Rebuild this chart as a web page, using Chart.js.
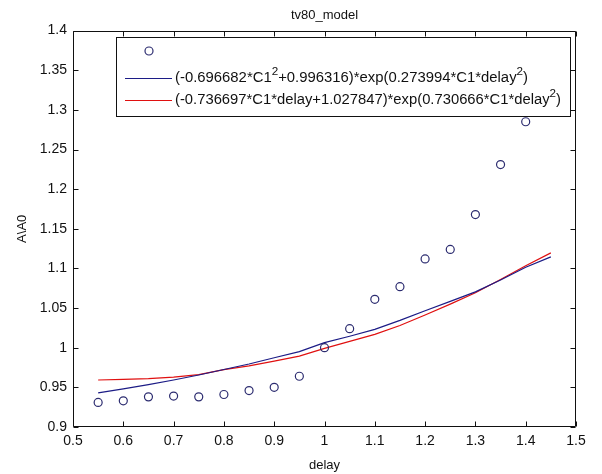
<!DOCTYPE html>
<html><head><meta charset="utf-8">
<script src="https://cdn.jsdelivr.net/npm/chart.js@4/dist/chart.umd.min.js"></script>
<style>html,body{margin:0;padding:0;background:#fff}</style>
</head><body>
<canvas id="c" width="602" height="474"></canvas>
<script>
const chartTitle = 'tv80_model';
const xTitle = 'delay';
const yTitle = 'A\\A0';
const delay = [0.55,0.6,0.65,0.7,0.75,0.8,0.85,0.9,0.95,1.0,1.05,1.1,1.15,1.2,1.25,1.3,1.35,1.4];
const measured = [0.931,0.933,0.938,0.939,0.938,0.941,0.946,0.950,0.964,1.000,1.024,1.061,1.077,1.112,1.124,1.168,1.231,1.285];
const fitDelay = [0.55,0.6,0.65,0.7,0.75,0.8,0.85,0.9,0.95,1.0,1.05,1.1,1.15,1.2,1.25,1.3,1.35,1.4,1.45];
const fitBlue = [0.943,0.948,0.9535,0.9593,0.9656,0.9725,0.9795,0.9874,0.995,1.0065,1.0145,1.0232,1.0345,1.0466,1.0585,1.0705,1.0855,1.1015,1.1146];
const fitRed = [0.9593,0.960,0.961,0.963,0.966,0.9723,0.977,0.9832,0.9895,0.9992,1.008,1.0169,1.028,1.0412,1.055,1.0693,1.086,1.1033,1.1196];
const legendLabels = ['', '(-0.696682*C1^2+0.996316)*exp(0.273994*C1*delay^2)', '(-0.736697*C1*delay+1.027847)*exp(0.730666*C1*delay^2)'];
const xTicks = [0.5,0.6,0.7,0.8,0.9,1.0,1.1,1.2,1.3,1.4,1.5];
const yTicks = [0.9,0.95,1.0,1.05,1.1,1.15,1.2,1.25,1.3,1.35,1.4];

const FAM = '"Liberation Sans", Arial, sans-serif';
Chart.defaults.font.family = FAM;
Chart.defaults.font.size = 13;
Chart.defaults.color = '#111';

const fmt = v => String(Number(Number(v).toFixed(2)));

const framePlugin = {
  id: 'frame',
  afterDatasetsDraw(chart) {
    const {ctx, chartArea: {left, right, top, bottom}, scales: {x, y}} = chart;
    const L = Math.round(left) + 0.5, R = Math.round(right) - 0.5, T = Math.round(top) + 0.5, B = Math.round(bottom) - 0.5;
    ctx.save();
    ctx.strokeStyle = '#111';
    ctx.lineWidth = 1;
    ctx.beginPath();
    ctx.rect(L, T, R - L, B - T);
    const tl = 5;
    xTicks.forEach(v => {
      const p = Math.round(x.getPixelForValue(v)) + 0.5;
      ctx.moveTo(p, B); ctx.lineTo(p, B - tl);
      ctx.moveTo(p, T); ctx.lineTo(p, T + tl);
    });
    yTicks.forEach(v => {
      const p = Math.round(y.getPixelForValue(v)) + 0.5;
      ctx.moveTo(L, p); ctx.lineTo(L + tl, p);
      ctx.moveTo(R, p); ctx.lineTo(R - tl, p);
    });
    ctx.stroke();
    ctx.restore();
  }
};

function drawRich(ctx, text, x, y, size, targetWidth) {
  const re = /\^(.)/g;
  let last = 0, m;
  const pieces = [];
  while ((m = re.exec(text)) !== null) {
    pieces.push([text.slice(last, m.index), false]);
    pieces.push([m[1], true]);
    last = m.index + m[0].length;
  }
  pieces.push([text.slice(last), false]);
  const setF = sup => { ctx.font = (sup ? Math.round(size * 0.78) : size) + 'px ' + FAM; };
  let w = 0;
  pieces.forEach(([s, sup]) => { if (!s) return; setF(sup); w += ctx.measureText(s).width; });
  const sx = targetWidth ? targetWidth / w : 1;
  ctx.save();
  ctx.translate(x, y);
  ctx.scale(sx, 1);
  let cx = 0;
  pieces.forEach(([s, sup]) => {
    if (!s) return;
    setF(sup);
    ctx.fillText(s, cx, sup ? -size * 0.45 : 0);
    cx += ctx.measureText(s).width;
  });
  ctx.restore();
}

const legendPlugin = {
  id: 'boxLegend',
  afterDraw(chart) {
    const {ctx} = chart;
    const box = {l: 116.5, t: 37.5, r: 570.5, b: 116.5};
    const rows = [51, 78, 100];
    const textWidths = [0, 353, 386];
    ctx.save();
    ctx.fillStyle = '#fff';
    ctx.fillRect(box.l, box.t, box.r - box.l, box.b - box.t);
    ctx.strokeStyle = '#111';
    ctx.lineWidth = 1;
    ctx.strokeRect(box.l, box.t, box.r - box.l, box.b - box.t);
    chart.data.datasets.forEach((ds, i) => {
      const yy = rows[i];
      if (!ds.showLine) {
        ctx.beginPath();
        ctx.arc(149, yy, ds.pointRadius, 0, Math.PI * 2);
        ctx.strokeStyle = ds.pointBorderColor;
        ctx.lineWidth = ds.pointBorderWidth;
        ctx.stroke();
      } else {
        ctx.beginPath();
        ctx.moveTo(125, yy + 0.5); ctx.lineTo(172, yy + 0.5);
        ctx.strokeStyle = ds.borderColor;
        ctx.lineWidth = ds.borderWidth;
        ctx.stroke();
      }
      ctx.fillStyle = '#111';
      ctx.textBaseline = 'middle';
      ctx.textAlign = 'left';
      if (ds.label) drawRich(ctx, ds.label, 175, yy + 0.5, 14, textWidths[i]);
    });
    ctx.restore();
  }
};

new Chart(document.getElementById('c'), {
  type: 'scatter',
  data: {
    datasets: [
      {
        label: legendLabels[0],
        data: delay.map((d, i) => ({x: d, y: measured[i]})),
        showLine: false,
        pointRadius: 4,
        pointStyle: 'circle',
        pointBackgroundColor: 'rgba(0,0,0,0)',
        pointBorderColor: '#2c2c70',
        pointBorderWidth: 1.2
      },
      {
        label: legendLabels[1],
        data: fitDelay.map((d, i) => ({x: d, y: fitBlue[i]})),
        showLine: true,
        borderColor: '#1c1c86',
        borderWidth: 1.2,
        pointRadius: 0,
        tension: 0
      },
      {
        label: legendLabels[2],
        data: fitDelay.map((d, i) => ({x: d, y: fitRed[i]})),
        showLine: true,
        borderColor: '#e01010',
        borderWidth: 1.2,
        pointRadius: 0,
        tension: 0
      }
    ]
  },
  options: {
    responsive: false,
    animation: false,
    devicePixelRatio: 1,
    layout: {padding: {left: 0, right: 26, top: 0, bottom: 0}},
    plugins: {
      legend: {display: false},
      tooltip: {enabled: false},
      title: {
        display: true,
        text: chartTitle,
        fullSize: false,
        color: '#111',
        font: {size: 13, weight: 'normal'},
        padding: {top: 8, bottom: 7}
      }
    },
    scales: {
      x: {
        type: 'linear',
        min: 0.5, max: 1.5,
        afterBuildTicks: s => { s.ticks = xTicks.map(v => ({value: v})); },
        afterFit: s => { s.height = 47; },
        grid: {display: false, drawTicks: false},
        border: {display: false},
        ticks: {padding: 6, maxRotation: 0, autoSkip: false, color: '#111', font: {size: 14}, callback: v => fmt(v)},
        title: {display: true, text: xTitle, color: '#111', font: {size: 13}, padding: {top: 0, bottom: 1}}
      },
      y: {
        type: 'linear',
        min: 0.9, max: 1.4,
        afterBuildTicks: s => { s.ticks = yTicks.map(v => ({value: v})); },
        afterFit: s => { s.width = 73; },
        grid: {display: false, drawTicks: false},
        border: {display: false},
        ticks: {padding: 6, autoSkip: false, color: '#111', font: {size: 14}, callback: v => fmt(v)},
        title: {display: true, text: yTitle, color: '#111', font: {size: 13}, padding: {top: 15, bottom: 0}}
      }
    }
  },
  plugins: [framePlugin, legendPlugin]
});
</script>
</body></html>
